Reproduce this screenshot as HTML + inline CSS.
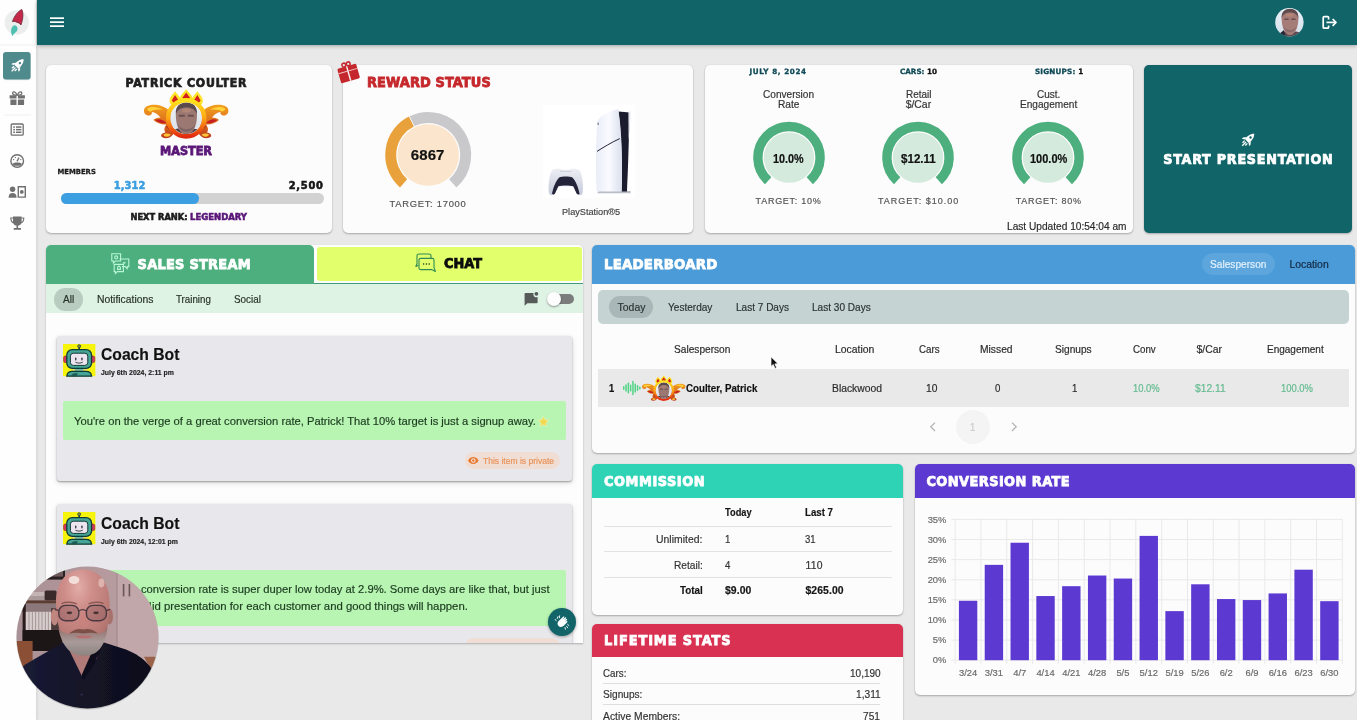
<!DOCTYPE html>
<html lang="en">
<head>
<meta charset="utf-8">
<title>Sales Dashboard</title>
<style>
*{box-sizing:border-box;margin:0;padding:0}
html,body{width:1357px;height:720px;overflow:hidden}
body{position:relative;background:#e9e9e9;font-family:"Liberation Sans",sans-serif;color:#222;font-size:11px}
.abs{position:absolute}
.t{position:absolute;white-space:nowrap;line-height:1;transform-origin:0 50%;-webkit-text-stroke:.18px currentColor}
.card{position:absolute;background:#fdfcfd;border-radius:5px;box-shadow:0 1px 2px rgba(0,0,0,.28),0 0 1px rgba(0,0,0,.12)}
#sidebar{left:0;top:0;width:36.2px;height:720px;background:#fefefe}
#header{left:36.8px;top:0;width:1320.2px;height:44.5px;background:#116467;box-shadow:0 1px 4px rgba(0,0,0,.3)}
svg{position:absolute;overflow:visible}
</style>
</head>
<body>
<!-- CARDS ROW -->
<div class="card" style="left:46px;top:65px;width:286px;height:168px"></div>
<div class="t" style="left:125.50px;top:77px;font-size:12.2px;font-family:'DejaVu Sans Condensed','DejaVu Sans','Liberation Sans',sans-serif;font-weight:700;letter-spacing:0.824px;color:#1f1f1f;-webkit-text-stroke:0.7px #1f1f1f;">PATRICK COULTER</div>
<svg style="left:140px;top:88px" width="92" height="52" viewBox="140 88 92 52">
<defs>
<linearGradient id="bring" x1="0" y1="0" x2="0" y2="1"><stop offset="0" stop-color="#ffe21c"/><stop offset=".5" stop-color="#ffa514"/><stop offset="1" stop-color="#e22a10"/></linearGradient>
<linearGradient id="bwing" x1="0" y1="0" x2="0" y2="1"><stop offset="0" stop-color="#f2a01e"/><stop offset=".6" stop-color="#d9661c"/><stop offset="1" stop-color="#b93a1c"/></linearGradient>
<linearGradient id="bphoto" x1="0" y1="0" x2="0" y2="1"><stop offset="0" stop-color="#eef2f8"/><stop offset="1" stop-color="#d9dfe8"/></linearGradient>
<clipPath id="bclip"><circle cx="186.2" cy="118.2" r="15.6"/></clipPath>
</defs>
<g id="badgeart">
<!-- wings -->
<g id="bw">
<path d="M169 110.600 C163 104.600 152 103.400 146.400 106.600 C142.600 109 143.400 114.600 147.600 115.400 C150.400 116 152.600 114 151.800 112 C155 112.400 158.400 114.600 160.400 117.400 C157.400 117.400 154.600 118.400 153.400 120 C157 123.400 162 124.800 166.400 124.400 C164.400 127 163.600 129.600 165.400 132.400 C162.600 132.600 160.400 134.600 161.400 136.600 C164.400 139.400 170.600 138.600 173.400 134 L171.400 113 Z" fill="url(#bwing)"/>
<path d="M147.200 108.800 C150 106 157.600 106.400 162.600 109.800 C158 109 153 109.600 151 111.400 C149.600 111.800 147.200 110.600 147.200 108.800 Z" fill="#ffd23a"/>
<path d="M155 119.800 C158.400 118.400 163.600 119.400 166.400 123 C162 123.800 157.600 122.600 155 119.800 Z" fill="#c51f22"/>
<path d="M163.400 134.800 C165 133 168.600 133 170.800 134.600 C169 137.400 165 137.600 163.400 134.800 Z" fill="#ffc43a"/>
<path d="M166 126 C167.400 128 169.400 130 171.600 131 L170.400 125 Z" fill="#a8321a"/>
</g>
<use href="#bw" transform="translate(372.4 0) scale(-1 1)"/>
<!-- crown flames -->
<g>
<path d="M175 91.200 C177.600 94.600 180.600 97 180.800 100.400 C180.800 103.600 178 106 175.200 106.400 C172 106 169.400 103.600 169.600 100.400 C169.800 97 172.600 94.600 175 91.200 Z" fill="#ffe326"/>
<path d="M197.400 91.200 C199.800 94.600 202.600 97 202.800 100.400 C203 103.600 200.400 106 197.200 106.400 C194.400 106 191.600 103.600 191.600 100.400 C191.800 97 194.800 94.600 197.400 91.200 Z" fill="#ffe326"/>
<path d="M186.200 89.200 C188.800 92.600 192.400 95 192.400 98.800 C192.400 102.400 189.600 105 186.200 105.400 C182.800 105 180 102.400 180 98.800 C180 95 183.600 92.600 186.200 89.200 Z" fill="#ffe326"/>
<path d="M175 95 L178.400 100.200 L175.200 104.800 L171.800 100.400 Z" fill="#d3201d"/>
<path d="M197.400 95 L200.600 100.400 L197.200 104.800 L194 100.200 Z" fill="#d3201d"/>
<path d="M186.200 92.400 L190 97.800 L186.200 103.400 L182.400 97.800 Z" fill="#d3201d"/>
</g>
<!-- ring -->
<circle cx="186.2" cy="118.4" r="18" fill="none" stroke="url(#bring)" stroke-width="4.600"/>
<circle cx="186.2" cy="118.200" r="15.800" fill="url(#bphoto)"/>
<g clip-path="url(#bclip)">
<path d="M168 136 C170 131 174 129.600 178 128.600 L196 129 C200 130 203 131.400 204.600 136 Z" fill="#4a3f48"/>
<path d="M186.400 103.400 C193.600 103.400 197.200 108.400 197 116 C196.800 123.600 194.800 129.600 191 133 C188.400 135.200 184.400 135.200 181.800 133 C178 129.600 176 123.600 175.800 116 C175.600 108.400 179.200 103.400 186.400 103.400 Z" fill="#9c7872"/>
<path d="M175.900 114.600 C175 106 180.400 102.600 186.400 102.600 C192.400 102.600 197.800 106 196.900 114.600 C195.600 109.800 192 107.600 186.400 107.600 C180.800 107.600 177.200 109.800 175.900 114.600 Z" fill="#5a4a4c"/>
<path d="M178.800 114.800 h6 v2 h-6 Z M187.800 114.800 h6 v2 h-6 Z" fill="#6a4e4e"/>
<path d="M177.400 123.600 C180 131 192.800 131 195.400 123.600 C193.600 134.600 179.200 134.600 177.400 123.600 Z" fill="#7d6466"/>
<ellipse cx="186.400" cy="110.600" rx="4.600" ry="2" fill="#b98a7a" opacity=".7"/>
</g>
</g>
</svg>
<div class="t" style="left:160.00px;top:145px;font-size:12.5px;font-family:'DejaVu Sans Condensed','DejaVu Sans','Liberation Sans',sans-serif;font-weight:700;color:#5a1777;-webkit-text-stroke:0.8px #5a1777;">MASTER</div>
<div class="t" style="left:57.50px;top:169px;font-size:6.83px;font-family:'DejaVu Sans','Liberation Sans',sans-serif;font-weight:700;color:#1b1b1b;-webkit-text-stroke:0.3px #1b1b1b;">MEMBERS</div>
<div class="t" style="left:113.75px;top:180px;font-size:11px;font-family:'DejaVu Sans Condensed','DejaVu Sans','Liberation Sans',sans-serif;font-weight:700;letter-spacing:0.109px;color:#3b9fe2;-webkit-text-stroke:0.55px #3b9fe2;">1,312</div>
<div class="t" style="left:288.75px;top:180px;font-size:11px;font-family:'DejaVu Sans Condensed','DejaVu Sans','Liberation Sans',sans-serif;font-weight:700;letter-spacing:0.734px;color:#161616;-webkit-text-stroke:0.55px #161616;">2,500</div>
<div class="abs" style="left:60.5px;top:193px;width:263.2px;height:10.8px;border-radius:5.4px;background:#d2d2d2"></div>
<div class="abs" style="left:60.5px;top:193px;width:138.2px;height:10.8px;border-radius:5.4px;background:#3b9fe2"></div>
<div class="t" style="left:130.50px;top:212px;font-size:9.22px;font-family:'DejaVu Sans Condensed','DejaVu Sans','Liberation Sans',sans-serif;font-weight:700;color:#1b1b1b;-webkit-text-stroke:0.55px #1b1b1b;">NEXT RANK:</div>
<div class="t" style="left:190.00px;top:212px;font-size:9.46px;font-family:'DejaVu Sans Condensed','DejaVu Sans','Liberation Sans',sans-serif;font-weight:700;color:#5a1777;-webkit-text-stroke:0.55px #5a1777;">LEGENDARY</div>
<div class="card" style="left:343px;top:65px;width:350px;height:168px"></div>
<svg style="left:333.2px;top:55.5px" width="30" height="30" viewBox="334 56 30 30">
<g transform="rotate(-16 349 72)">
<rect x="339.400" y="66" width="19.600" height="15.200" rx="1.600" fill="#c5282c"/>
<rect x="348.500" y="66" width="1.400" height="15.200" fill="#fdf3f3"/>
<rect x="339.400" y="70.600" width="19.600" height="1" fill="#f3c9c9"/>
<g fill="none" stroke="#c5282c" stroke-width="1.500"><circle cx="346.900" cy="64.200" r="1.900"/><circle cx="351.500" cy="64.200" r="1.900"/></g>
</g></svg>
<div class="t" style="left:367.00px;top:75px;font-size:14.4px;font-family:'DejaVu Sans Condensed','DejaVu Sans','Liberation Sans',sans-serif;font-weight:700;letter-spacing:0.116px;color:#c5282c;-webkit-text-stroke:0.8px #c5282c;">REWARD STATUS</div>
<svg style="left:380px;top:106px" width="96" height="96" viewBox="380 106 96 96">
<path d="M412.06 121.15 A37.50 37.50 0 0 1 452.80 183.30" fill="none" stroke="#c9c9cb" stroke-width="11"/><path d="M403.60 183.30 A37.50 37.50 0 0 1 411.36 121.50" fill="none" stroke="#e9a23b" stroke-width="11"/><circle cx="428.2" cy="155" r="30.8" fill="#fbe6cd"/>
</svg>
<div class="t" style="left:410.80px;top:147px;font-size:15px;font-weight:700;letter-spacing:0.075px;color:#111;">6867</div>
<div class="t" style="left:389.40px;top:199px;font-size:9.4px;letter-spacing:0.735px;color:#555;">TARGET: 17000</div>
<svg style="left:540px;top:104px" width="100" height="96" viewBox="540 104 100 96">
<defs>
<linearGradient id="psb" x1="0" y1="0" x2="1" y2="0"><stop offset="0" stop-color="#e9edf6"/><stop offset=".5" stop-color="#fafbff"/><stop offset="1" stop-color="#d9dfec"/></linearGradient>
<linearGradient id="psc" x1="0" y1="0" x2="0" y2="1"><stop offset="0" stop-color="#eceef5"/><stop offset="1" stop-color="#c6cad9"/></linearGradient>
</defs>
<rect x="543" y="105" width="92" height="93" fill="#ffffff"/>
<!-- console -->
<path d="M599 191 L630.6 191 L630.6 193.2 L597 193.2 Z" fill="#b9bcc6"/>
<path d="M618.4 111.6 L629.8 112.6 C629 128 628.6 160 627 191.4 L621.6 191.4 C622.6 160 621 130 618.4 111.6 Z" fill="#1b1c2d"/>
<path d="M628.4 111.8 L630.6 111.4 C630.4 122 629.4 132 628.6 140 Z" fill="#e3e6ee"/>
<path d="M597.4 121 C600 116 610 110.6 618.2 109 C621.4 128 622.8 160 621.6 191.6 L596.6 191.6 C595.6 170 595.8 140 597.4 121 Z" fill="url(#psb)"/>
<path d="M597 151.4 C603 147.6 612 142 619.8 138.6" fill="none" stroke="#23253a" stroke-width="1"/>
<rect x="597.4" y="122.6" width="1.6" height="2.4" fill="#8f95a8"/>
<!-- controller -->
<path d="M552.400 170 C555.400 168.200 560.400 168.400 563 169.800 L568.600 169.800 C571.200 168.400 576.200 168.200 579.200 170 C582.600 174 584 188 582.400 193.600 C581.400 196 578.400 195.800 577.200 193.600 L574.200 186.200 L557.400 186.200 L554.400 193.600 C553.200 195.800 550.200 196 549.200 193.600 C547.600 188 549 174 552.400 170 Z" fill="url(#psc)"/>
<path d="M559.200 177.400 C562 176.200 569.600 176.200 572.400 177.400 C576 181 578.600 188 579.600 193.800 C578.800 195 577.200 194.800 576.600 193.600 L573.200 186.200 C570 185.200 561.600 185.200 558.400 186.200 L555 193.600 C554.400 194.800 552.800 195 552 193.800 C553 188 555.600 181 559.200 177.400 Z" fill="#23243a"/>
<path d="M560 171.400 H571.600" stroke="#c5c9d6" stroke-width=".8" fill="none"/>
</svg>
<div class="t" style="left:562.30px;top:207px;font-size:9.6px;transform:scaleX(0.9534);color:#444;">PlayStation&#174;5</div>
<div class="card" style="left:705px;top:65px;width:427.5px;height:168px"></div>
<div class="t" style="left:749.50px;top:68px;font-size:7.2px;font-family:'DejaVu Sans','Liberation Sans',sans-serif;font-weight:700;letter-spacing:0.598px;color:#0f4a57;-webkit-text-stroke:0.3px #0f4a57;">JULY 8, 2024</div>
<div class="t" style="left:900.00px;top:68px;font-size:7.2px;font-family:'DejaVu Sans','Liberation Sans',sans-serif;font-weight:700;letter-spacing:0.007px;color:#0f4a57;-webkit-text-stroke:0.3px #0f4a57;">CARS: <span style="color:#111;-webkit-text-stroke-color:#111">10</span></div>
<div class="t" style="left:1035.00px;top:68px;font-size:7.2px;font-family:'DejaVu Sans','Liberation Sans',sans-serif;font-weight:700;letter-spacing:0.194px;color:#0f4a57;-webkit-text-stroke:0.3px #0f4a57;">SIGNUPS: <span style="color:#111;-webkit-text-stroke-color:#111">1</span></div>
<div class="t" style="left:763.00px;top:90px;font-size:10.4px;transform:scaleX(0.9703);color:#333;">Conversion</div>
<div class="t" style="left:777.75px;top:100px;font-size:10.4px;transform:scaleX(0.9794);color:#333;">Rate</div>
<svg style="left:748.5px;top:118px" width="80" height="80" viewBox="748.5 118 80 80"><path d="M767.69 180.71 A31.10 31.10 0 1 1 809.31 180.71" fill="none" stroke="#4caf7d" stroke-width="9.4"/><circle cx="788.5" cy="157.6" r="25.2" fill="#d4eadc"/></svg>
<div class="t" style="left:773.30px;top:153px;font-size:12px;font-weight:700;transform:scaleX(0.8992);color:#111;">10.0%</div>
<div class="t" style="left:755.60px;top:197px;font-size:9px;letter-spacing:0.734px;color:#555;">TARGET: 10%</div>
<div class="t" style="left:905.65px;top:90px;font-size:10.4px;transform:scaleX(0.9594);color:#333;">Retail</div>
<div class="t" style="left:905.65px;top:100px;font-size:10.4px;letter-spacing:0.020px;color:#333;">$/Car</div>
<svg style="left:878.4px;top:118px" width="80" height="80" viewBox="878.4 118 80 80"><path d="M897.59 180.71 A31.10 31.10 0 1 1 939.21 180.71" fill="none" stroke="#4caf7d" stroke-width="9.4"/><circle cx="918.4" cy="157.6" r="25.2" fill="#d4eadc"/></svg>
<div class="t" style="left:900.80px;top:153px;font-size:12px;font-weight:700;transform:scaleX(0.9654);color:#111;">$12.11</div>
<div class="t" style="left:878.00px;top:197px;font-size:9px;letter-spacing:0.987px;color:#555;">TARGET: $10.00</div>
<div class="t" style="left:1036.75px;top:90px;font-size:10.4px;transform:scaleX(0.9602);color:#333;">Cust.</div>
<div class="t" style="left:1019.75px;top:100px;font-size:10.4px;transform:scaleX(0.9722);color:#333;">Engagement</div>
<svg style="left:1008.4000000000001px;top:118px" width="80" height="80" viewBox="1008.4000000000001 118 80 80"><path d="M1027.59 180.71 A31.10 31.10 0 1 1 1069.21 180.71" fill="none" stroke="#4caf7d" stroke-width="9.4"/><circle cx="1048.4" cy="157.6" r="25.2" fill="#d4eadc"/></svg>
<div class="t" style="left:1030.00px;top:153px;font-size:12px;font-weight:700;transform:scaleX(0.9164);color:#111;">100.0%</div>
<div class="t" style="left:1015.70px;top:197px;font-size:9px;letter-spacing:0.744px;color:#555;">TARGET: 80%</div>

<div class="t" style="left:1006.70px;top:222px;font-size:10.4px;transform:scaleX(0.9758);color:#2a2a2a;">Last Updated 10:54:04 am</div>
<div class="card" style="left:1144px;top:65px;width:208.4px;height:168px;background:#116467"></div>
<svg style="left:1239px;top:131px" width="18" height="18" viewBox="1239 131 18 18"><g fill="#fff" transform="translate(1249 139) rotate(45)">
<path d="M0 -7.400 C3 -4.600 3.200 -0.600 2.900 3 L-2.900 3 C-3.200 -0.600 -3 -4.600 0 -7.400 Z M0 -3.400 a1.250 1.250 0 1 0 0.010 0 Z" fill-rule="evenodd"/>
<path d="M-2.900 0.200 L-5.200 3.200 L-5.200 4.800 L-2.900 3.600 Z M2.900 0.200 L5.200 3.200 L5.200 4.800 L2.900 3.600 Z"/>
<path d="M-2.600 4.200 h1.300 v3 h-1.300 Z M-0.650 4.200 h1.300 v5.400 h-1.300 Z M1.300 4.200 h1.300 v3 h-1.300 Z"/>
</g></svg>
<div class="t" style="left:1163.30px;top:152px;font-size:14.2px;font-family:'DejaVu Sans Condensed','DejaVu Sans','Liberation Sans',sans-serif;font-weight:700;letter-spacing:0.736px;color:#fff;-webkit-text-stroke:0.7px #fff;">START PRESENTATION</div>

<!-- STREAM PANEL -->
<div class="abs" style="left:45.6px;top:244.8px;width:537.8px;height:398.6px;background:#fdfdfd;border-radius:5px 5px 0 0;box-shadow:0 1px 2px rgba(0,0,0,.25)"></div>
<div class="abs" style="left:45.6px;top:244.8px;width:268.7px;height:39.6px;background:#4caf7d;border-radius:5px 5px 0 0"></div>
<div class="abs" style="left:317px;top:246.6px;width:265px;height:34.2px;background:#e2ff6c;border-radius:3px"></div>
<div class="abs" style="left:314.3px;top:282.5px;width:269.1px;height:2.4px;background:#3f9e78"></div>
<div class="abs" style="left:45.6px;top:284.4px;width:537.8px;height:28.5px;background:#dff3e5"></div>
<svg style="left:110.6px;top:253px" width="18.6" height="21" viewBox="0 0 18.6 21" fill="none" stroke="#b9f7d8" stroke-width="1.1">
<path d="M.8 .8 H9.6 V8 H4.4 L2.4 10 V8 H.8 Z"/>
<path d="M8.6 6 H17.8 V13.6 H16.2 V15.6 L14.2 13.6 H11"/>
<path d="M3.2 11.4 H12.4 V18.6 H6.4 L4.4 20.4 V18.6 H3.2 Z"/>
<circle cx="5.2" cy="4.4" r="1.5"/><path d="M12 9.2 l1.2 1.2 l1.2 -1.2"/><path d="M6.6 16.4 v-2.2 l1.4 -1.2 l1.4 1.2 v2.2 Z"/>
</svg>
<div class="t" style="left:137.60px;top:257px;font-size:14.4px;font-family:'DejaVu Sans Condensed','DejaVu Sans','Liberation Sans',sans-serif;font-weight:700;letter-spacing:0.259px;color:#fff;-webkit-text-stroke:0.75px #fff;">SALES STREAM</div>
<svg style="left:415.4px;top:253px" width="21" height="19.4" viewBox="0 0 21 19.4" fill="none" stroke="#2f8a57" stroke-width="1.1" stroke-linejoin="round">
<path d="M3.4 12.2 L.8 13.4 L2 10.8 V3 Q2 1 4 1 H14 Q16 1 16 3 V5"/>
<path d="M5.6 5.4 H17.4 Q19 5.4 19 7 V14.4 L20.4 18.4 L16.6 16.6 H5.6 Q4 16.6 4 15 V7 Q4 5.4 5.6 5.4 Z" fill="#e2ff6c"/>
<g fill="#1c3a25" stroke="none"><circle cx="8.6" cy="11" r=".8"/><circle cx="11.4" cy="11" r=".8"/><circle cx="14.2" cy="11" r=".8"/></g>
</svg>
<div class="t" style="left:444.00px;top:256px;font-size:14.37px;font-family:'DejaVu Sans Condensed','DejaVu Sans','Liberation Sans',sans-serif;font-weight:700;color:#0c0c0c;-webkit-text-stroke:0.75px #0c0c0c;">CHAT</div>
<div class="abs" style="left:54.4px;top:288px;width:28.2px;height:22.6px;border-radius:11.3px;background:#b9ccc0"></div>
<div class="t" style="left:63.00px;top:295px;font-size:10.4px;transform:scaleX(0.9686);color:#263228;">All</div>
<div class="t" style="left:96.80px;top:295px;font-size:10.4px;transform:scaleX(0.9963);color:#263228;">Notifications</div>
<div class="t" style="left:176.30px;top:295px;font-size:10.4px;transform:scaleX(0.9393);color:#263228;">Training</div>
<div class="t" style="left:234.30px;top:295px;font-size:10.4px;transform:scaleX(0.9501);color:#263228;">Social</div>
<svg style="left:524.2px;top:290.6px" width="15.4" height="15.4" viewBox="0 0 15.4 15.4">
<path d="M1.4 2 H9.6 A3 3 0 0 0 13.6 6 V11.4 Q13.6 12.2 12.8 12.2 H3.4 L.6 14.8 V2.8 Q.6 2 1.4 2 Z" fill="#565a58"/>
<circle cx="12.4" cy="2.8" r="1.9" fill="#565a58"/>
</svg>
<div class="abs" style="left:548.4px;top:294px;width:25.8px;height:10px;border-radius:5px;background:#7b7d7c"></div>
<div class="abs" style="left:547px;top:291.8px;width:14.2px;height:14.2px;border-radius:50%;background:#fdfdfd;box-shadow:0 1px 2px rgba(0,0,0,.4)"></div>
<div class="abs" style="left:45.6px;top:312.8px;width:537.8px;height:330.6px;overflow:hidden">
<div class="abs" style="left:-45.6px;top:-312.8px;width:1357px;height:720px">
<div class="abs" style="left:57px;top:336.2px;width:515.4px;height:145px;background:#e8e8ec;border-radius:3px;box-shadow:0 1px 2px rgba(0,0,0,.35),0 2px 6px rgba(0,0,0,.12)"></div>
<svg style="left:62.8px;top:344.0px" width="32.4" height="32.2" viewBox="0 0 32.4 32.2">
<rect width="32.4" height="32.2" fill="#f6f40c"/>
<rect x="15.4" y="2.6" width="1.6" height="3.4" fill="#17443e"/>
<circle cx="16.2" cy="2.2" r="1.5" fill="#8f8f3c" stroke="#17443e" stroke-width=".7"/>
<rect x="0.6" y="12" width="4" height="6.6" rx="1.6" fill="#d9365c" stroke="#7a1f35" stroke-width=".5"/>
<rect x="27.8" y="12" width="4" height="6.6" rx="1.6" fill="#d9365c" stroke="#7a1f35" stroke-width=".5"/>
<rect x="3.8" y="5.6" width="24.8" height="18.8" rx="5.4" fill="#46a596" stroke="#0f3b36" stroke-width="1.3"/>
<rect x="7.4" y="9.2" width="17.4" height="12.2" rx="3" fill="#ece4ee" stroke="#0f3b36" stroke-width="1"/>
<rect x="12.1" y="13.6" width="1.3" height="2.8" rx=".6" fill="#2c3440"/>
<rect x="18.3" y="13.6" width="1.3" height="2.8" rx=".6" fill="#2c3440"/>
<path d="M12.8 18.4 C14.6 19.4 17.6 19.4 19.4 18.4" fill="none" stroke="#2c3440" stroke-width=".9" stroke-linecap="round"/>
<rect x="8.4" y="25.2" width="15.6" height="1.4" fill="#e8d37c"/>
<rect x="12" y="25" width="8.4" height="1.8" fill="#6fb7ab"/>
<path d="M3.8 32.2 C4.2 28.4 6.4 27.4 9.4 27.4 H23 C26 27.4 28.2 28.4 28.6 32.2 Z" fill="#46a596" stroke="#0f3b36" stroke-width="1.3"/>
<path d="M8 32.2 C8.6 30 10 29.2 12 29.2 H15 L13.4 32.2 Z" fill="#1d5a52"/>
</svg>
<div class="t" style="left:100.80px;top:346px;font-size:17px;font-weight:700;transform:scaleX(0.9224);color:#111;">Coach Bot</div>
<div class="t" style="left:100.80px;top:369px;font-size:8px;font-weight:700;transform:scaleX(0.8639);">July 6th 2024, 2:11 pm</div>

<div class="abs" style="left:63px;top:400.8px;width:503.2px;height:39.4px;background:#b8f5b3;border-radius:2px"></div>
<div class="t" style="left:74.30px;top:415px;font-size:11.6px;transform:scaleX(0.9671);color:#1b3a1e;">You&#39;re on the verge of a great conversion rate, Patrick! That 10% target is just a signup away.</div>
<svg style="left:537.6px;top:415.6px" width="11" height="11" viewBox="0 0 11 11"><path d="M5.5 .4 L7 3.8 L10.7 4.2 L7.9 6.7 L8.7 10.4 L5.5 8.5 L2.3 10.4 L3.1 6.7 L.3 4.2 L4 3.8 Z" fill="#f1d84d" stroke="#f8f1b0" stroke-width=".6"/></svg>
<div class="abs" style="left:464.8px;top:451.8px;width:95.2px;height:17.4px;border-radius:8.7px;background:#f0ddd3"></div>
<svg style="left:467.6px;top:457.3px" width="10.6" height="7" viewBox="0 0 10.6 7"><path d="M0 3.5 C1.6 .6 3.4 0 5.3 0 C7.2 0 9 .6 10.6 3.5 C9 6.4 7.2 7 5.3 7 C3.4 7 1.6 6.4 0 3.5 Z M5.3 1.2 A2.3 2.3 0 1 0 5.31 1.2 Z M5.3 2.3 A1.2 1.2 0 1 1 5.29 2.3 Z" fill="#e8782c" fill-rule="evenodd"/></svg>
<div class="t" style="left:482.60px;top:457px;font-size:8.6px;transform:scaleX(0.9911);color:#e8935a;">This item is private</div>
<div class="abs" style="left:57px;top:504.4px;width:515.4px;height:160px;background:#e8e8ec;border-radius:3px;box-shadow:0 1px 2px rgba(0,0,0,.35),0 2px 6px rgba(0,0,0,.12)"></div>
<svg style="left:62.8px;top:512.1999999999999px" width="32.4" height="32.2" viewBox="0 0 32.4 32.2">
<rect width="32.4" height="32.2" fill="#f6f40c"/>
<rect x="15.4" y="2.6" width="1.6" height="3.4" fill="#17443e"/>
<circle cx="16.2" cy="2.2" r="1.5" fill="#8f8f3c" stroke="#17443e" stroke-width=".7"/>
<rect x="0.6" y="12" width="4" height="6.6" rx="1.6" fill="#d9365c" stroke="#7a1f35" stroke-width=".5"/>
<rect x="27.8" y="12" width="4" height="6.6" rx="1.6" fill="#d9365c" stroke="#7a1f35" stroke-width=".5"/>
<rect x="3.8" y="5.6" width="24.8" height="18.8" rx="5.4" fill="#46a596" stroke="#0f3b36" stroke-width="1.3"/>
<rect x="7.4" y="9.2" width="17.4" height="12.2" rx="3" fill="#ece4ee" stroke="#0f3b36" stroke-width="1"/>
<rect x="12.1" y="13.6" width="1.3" height="2.8" rx=".6" fill="#2c3440"/>
<rect x="18.3" y="13.6" width="1.3" height="2.8" rx=".6" fill="#2c3440"/>
<path d="M12.8 18.4 C14.6 19.4 17.6 19.4 19.4 18.4" fill="none" stroke="#2c3440" stroke-width=".9" stroke-linecap="round"/>
<rect x="8.4" y="25.2" width="15.6" height="1.4" fill="#e8d37c"/>
<rect x="12" y="25" width="8.4" height="1.8" fill="#6fb7ab"/>
<path d="M3.8 32.2 C4.2 28.4 6.4 27.4 9.4 27.4 H23 C26 27.4 28.2 28.4 28.6 32.2 Z" fill="#46a596" stroke="#0f3b36" stroke-width="1.3"/>
<path d="M8 32.2 C8.6 30 10 29.2 12 29.2 H15 L13.4 32.2 Z" fill="#1d5a52"/>
</svg>
<div class="t" style="left:100.80px;top:515px;font-size:17px;font-weight:700;transform:scaleX(0.9224);color:#111;">Coach Bot</div>
<div class="t" style="left:100.80px;top:538px;font-size:8px;font-weight:700;transform:scaleX(0.8592);">July 6th 2024, 12:01 pm</div>

<div class="abs" style="left:63px;top:569.8px;width:503.2px;height:56.5px;background:#b8f5b3;border-radius:2px"></div>
<div class="t" style="left:74.30px;top:583px;font-size:11.6px;transform:scaleX(0.9300);color:#1b3a1e;">The overall</div>
<div class="t" style="left:140.70px;top:583px;font-size:11.6px;transform:scaleX(0.9678);color:#1b3a1e;">conversion rate is super duper low today at 2.9%. Some days are like that, but just</div>
<div class="t" style="left:76.99px;top:600px;font-size:11.6px;transform:scaleX(0.9300);color:#1b3a1e;">give a really sol</div>
<div class="t" style="left:151.50px;top:600px;font-size:11.6px;transform:scaleX(0.9802);color:#1b3a1e;">id presentation for each customer and good things will happen.</div>
<div class="abs" style="left:464.8px;top:637.8px;width:95.2px;height:17.4px;border-radius:8.7px;background:#f0ddd3"></div>
<svg style="left:467.6px;top:643.3px" width="10.6" height="7" viewBox="0 0 10.6 7"><path d="M0 3.5 C1.6 .6 3.4 0 5.3 0 C7.2 0 9 .6 10.6 3.5 C9 6.4 7.2 7 5.3 7 C3.4 7 1.6 6.4 0 3.5 Z M5.3 1.2 A2.3 2.3 0 1 0 5.31 1.2 Z M5.3 2.3 A1.2 1.2 0 1 1 5.29 2.3 Z" fill="#e8782c" fill-rule="evenodd"/></svg>
<div class="t" style="left:482.60px;top:643px;font-size:8.6px;transform:scaleX(0.9911);color:#e8935a;">This item is private</div>
</div></div>
<div class="abs" style="left:548px;top:607.9px;width:28.4px;height:28.4px;border-radius:50%;background:#126468;box-shadow:0 1px 3px rgba(0,0,0,.35)"></div>
<svg style="left:554.6px;top:614.6px" width="15" height="15" viewBox="0 0 15 15"><g fill="#fff">
<path d="M5.2 4.4 L8.4 1.6 C9 1.2 9.8 2 9.2 2.6 L7.6 4.4 L10.2 2.4 C10.8 2 11.6 2.8 11 3.4 L8.8 5.6 L11.2 4 C11.8 3.6 12.6 4.4 12 5 L9.8 7 L11.6 6 C12.2 5.8 12.8 6.6 12.2 7.2 L9 10.6 C7.4 12.2 5 12.4 3.6 11 C2.2 9.6 2.2 7.6 3.4 6.2 Z"/>
<path d="M2.2 3.6 L3 1.6 M4.4 2.8 L4.6 .8 M1.2 5.8 L.2 4.4 M12.6 9.4 L13.8 10.4 M11.6 11.2 L12.6 12.8 M10 12.6 L10.4 14.2" stroke="#fff" stroke-width=".9" stroke-linecap="round"/>
</g></svg>

<!-- RIGHT COLUMN -->
<div class="card" style="left:591.8px;top:244.6px;width:763.4px;height:208.2px"></div>
<div class="abs" style="left:591.8px;top:244.6px;width:763.4px;height:39.2px;background:#4a9bd8;border-radius:5px 5px 0 0"></div>
<div class="t" style="left:604.00px;top:257px;font-size:14.8px;font-family:'DejaVu Sans Condensed','DejaVu Sans','Liberation Sans',sans-serif;font-weight:700;letter-spacing:0.233px;color:#fff;-webkit-text-stroke:0.75px #fff;">LEADERBOARD</div>
<div class="abs" style="left:1202px;top:253.2px;width:72.8px;height:22.2px;border-radius:11.1px;background:#5da6dd"></div>
<div class="t" style="left:1209.80px;top:260px;font-size:10.4px;transform:scaleX(0.9781);color:#e4f1fb;">Salesperson</div>
<div class="t" style="left:1289.40px;top:260px;font-size:10.4px;color:#14273f;">Location</div>
<div class="abs" style="left:597.6px;top:290.2px;width:751.8px;height:33.6px;border-radius:5px;background:#c5d3d3"></div>
<div class="abs" style="left:609px;top:296px;width:44.4px;height:22.4px;border-radius:11.2px;background:#aab7b8"></div>
<div class="t" style="left:617.60px;top:303px;font-size:10.4px;letter-spacing:0.016px;color:#2b3333;">Today</div>
<div class="t" style="left:668.40px;top:303px;font-size:10.4px;transform:scaleX(0.9685);color:#2b3333;">Yesterday</div>
<div class="t" style="left:736.00px;top:303px;font-size:10.4px;transform:scaleX(0.9658);color:#2b3333;">Last 7 Days</div>
<div class="t" style="left:812.00px;top:303px;font-size:10.4px;transform:scaleX(0.9677);color:#2b3333;">Last 30 Days</div>
<div class="t" style="left:674.30px;top:345px;font-size:10.4px;transform:scaleX(0.9764);color:#2b2b2b;">Salesperson</div>
<div class="t" style="left:835.00px;top:345px;font-size:10.4px;letter-spacing:0.015px;color:#2b2b2b;">Location</div>
<div class="t" style="left:919.40px;top:345px;font-size:10.4px;transform:scaleX(0.9384);color:#2b2b2b;">Cars</div>
<div class="t" style="left:980.40px;top:345px;font-size:10.4px;transform:scaleX(0.9902);color:#2b2b2b;">Missed</div>
<div class="t" style="left:1054.70px;top:345px;font-size:10.4px;transform:scaleX(0.9770);color:#2b2b2b;">Signups</div>
<div class="t" style="left:1132.70px;top:345px;font-size:10.4px;transform:scaleX(0.9355);color:#2b2b2b;">Conv</div>
<div class="t" style="left:1196.40px;top:345px;font-size:10.4px;letter-spacing:0.045px;color:#2b2b2b;">$/Car</div>
<div class="t" style="left:1267.00px;top:345px;font-size:10.4px;transform:scaleX(0.9620);color:#2b2b2b;">Engagement</div>
<div class="abs" style="left:597.6px;top:368.6px;width:751.8px;height:38.2px;background:#e9e9e9"></div>
<div class="t" style="left:609.30px;top:384px;font-size:10.4px;font-weight:700;transform:scaleX(0.9000);color:#111;">1</div>
<svg style="left:622.6px;top:380px" width="18" height="16" viewBox="0 0 18 16" fill="#52d486">
<rect x="0" y="6" width="1.5" height="4" rx=".7"/><rect x="2.300" y="4.200" width="1.5" height="7.600" rx=".7"/><rect x="4.600" y="2.600" width="1.5" height="10.800" rx=".7"/><rect x="6.900" y="4.400" width="1.5" height="7.200" rx=".7"/><rect x="9.200" y=".8" width="1.5" height="14.400" rx=".7"/><rect x="11.500" y="3.400" width="1.5" height="9.200" rx=".7"/><rect x="13.800" y="5" width="1.5" height="6" rx=".7"/><rect x="16.100" y="6.400" width="1.5" height="3.200" rx=".7"/>
</svg>
<svg style="left:639.7px;top:375px" width="47.3" height="26.7" viewBox="140 88 92 52"><use href="#badgeart"/></svg>
<div class="t" style="left:686.00px;top:384px;font-size:10.4px;font-weight:700;transform:scaleX(0.9366);color:#111;">Coulter, Patrick</div>
<div class="t" style="left:831.70px;top:384px;font-size:10.4px;transform:scaleX(0.9950);color:#2b2b2b;">Blackwood</div>
<div class="t" style="left:926.00px;top:384px;font-size:10.4px;transform:scaleX(0.9859);color:#2b2b2b;">10</div>
<div class="t" style="left:995.31px;top:384px;font-size:10.4px;transform:scaleX(0.9300);color:#2b2b2b;">0</div>
<div class="t" style="left:1071.71px;top:384px;font-size:10.4px;transform:scaleX(0.9300);color:#2b2b2b;">1</div>
<div class="t" style="left:1132.70px;top:384px;font-size:10.4px;transform:scaleX(0.9060);color:#63bb8f;">10.0%</div>
<div class="t" style="left:1195.40px;top:384px;font-size:10.4px;transform:scaleX(0.9866);color:#63bb8f;">$12.11</div>
<div class="t" style="left:1281.00px;top:384px;font-size:10.4px;transform:scaleX(0.9078);color:#63bb8f;">100.0%</div>
<div class="abs" style="left:955.8px;top:409.6px;width:34px;height:34px;border-radius:50%;background:#f4f4f4"></div>
<svg style="left:928px;top:420px" width="92" height="14" viewBox="928 420 92 14" fill="none" stroke="#b4b4b4" stroke-width="1.300">
<path d="M935 422.600 L930.800 426.800 L935 431"/><path d="M1012 422.600 L1016.200 426.800 L1012 431"/></svg>
<div class="t" style="left:970.31px;top:423px;font-size:10.4px;transform:scaleX(0.9300);color:#c9c9c9;">1</div>
<svg style="left:770px;top:356px" width="10" height="14" viewBox="0 0 10 14"><path d="M1 .8 L1 10.400 L3.300 8.400 L5 12.400 L6.600 11.700 L4.900 7.900 L8 7.700 Z" fill="#111" stroke="#fff" stroke-width=".7"/></svg>
<div class="card" style="left:592.2px;top:464px;width:310.8px;height:150.6px"></div>
<div class="abs" style="left:592.2px;top:464px;width:310.8px;height:34.2px;background:#2ed3b6;border-radius:5px 5px 0 0"></div>
<div class="t" style="left:604.00px;top:474px;font-size:14.4px;font-family:'DejaVu Sans Condensed','DejaVu Sans','Liberation Sans',sans-serif;font-weight:700;letter-spacing:0.539px;color:#fff;-webkit-text-stroke:0.75px #fff;">COMMISSION</div>
<div class="t" style="left:725.00px;top:508px;font-size:10.4px;font-weight:700;transform:scaleX(0.8918);color:#161616;">Today</div>
<div class="t" style="left:805.40px;top:508px;font-size:10.4px;font-weight:700;transform:scaleX(0.9324);color:#161616;">Last 7</div>
<div class="abs" style="left:604px;top:525.6px;width:287.6px;height:1px;background:#e2e2e2"></div>
<div class="abs" style="left:604px;top:551.3px;width:287.6px;height:1px;background:#e2e2e2"></div>
<div class="abs" style="left:604px;top:577px;width:287.6px;height:1px;background:#e2e2e2"></div>
<div class="t" style="left:656.00px;top:535px;font-size:10.4px;letter-spacing:0.022px;color:#333;">Unlimited:</div><div class="t" style="left:725.00px;top:535px;font-size:10.4px;transform:scaleX(0.9300);color:#333;">1</div><div class="t" style="left:805.40px;top:535px;font-size:10.4px;transform:scaleX(0.9168);color:#333;">31</div>
<div class="t" style="left:673.60px;top:561px;font-size:10.4px;transform:scaleX(0.9778);color:#333;">Retail:</div><div class="t" style="left:725.00px;top:561px;font-size:10.4px;transform:scaleX(0.9300);color:#333;">4</div><div class="t" style="left:805.40px;top:561px;font-size:10.4px;letter-spacing:0.311px;color:#333;">110</div>
<div class="t" style="left:679.60px;top:586px;font-size:10.4px;font-weight:700;transform:scaleX(0.9475);color:#161616;">Total</div><div class="t" style="left:725.00px;top:586px;font-size:10.4px;font-weight:700;letter-spacing:0.096px;color:#161616;">$9.00</div><div class="t" style="left:805.40px;top:586px;font-size:10.4px;font-weight:700;letter-spacing:0.106px;color:#161616;">$265.00</div>
<div class="card" style="left:592.2px;top:623.6px;width:310.8px;height:120px"></div>
<div class="abs" style="left:592.2px;top:623.6px;width:310.8px;height:33.6px;background:#d93151;border-radius:5px 5px 0 0"></div>
<div class="t" style="left:604.00px;top:633px;font-size:14.4px;font-family:'DejaVu Sans Condensed','DejaVu Sans','Liberation Sans',sans-serif;font-weight:700;letter-spacing:0.912px;color:#fff;-webkit-text-stroke:0.75px #fff;">LIFETIME STATS</div>
<div class="t" style="left:603.40px;top:669px;font-size:10.4px;transform:scaleX(0.9425);color:#333;">Cars:</div><div class="t" style="left:849.60px;top:669px;font-size:10.4px;transform:scaleX(0.9660);color:#333;">10,190</div>
<div class="abs" style="left:603.4px;top:683px;width:277px;height:1px;background:#dedede"></div>
<div class="t" style="left:603.40px;top:690px;font-size:10.4px;transform:scaleX(0.9743);color:#333;">Signups:</div><div class="t" style="left:855.60px;top:690px;font-size:10.4px;transform:scaleX(0.9788);color:#333;">1,311</div>
<div class="abs" style="left:603.4px;top:704.4px;width:277px;height:1px;background:#dedede"></div>
<div class="t" style="left:603.40px;top:712px;font-size:10.4px;transform:scaleX(0.9952);color:#333;">Active Members:</div><div class="t" style="left:863.40px;top:712px;font-size:10.4px;transform:scaleX(0.9744);color:#333;">751</div>
<div class="card" style="left:915px;top:464px;width:440px;height:231.2px"></div>
<div class="abs" style="left:915px;top:464px;width:440px;height:34.2px;background:#5c3ad1;border-radius:5px 5px 0 0"></div>
<div class="t" style="left:926.40px;top:474px;font-size:14.4px;font-family:'DejaVu Sans Condensed','DejaVu Sans','Liberation Sans',sans-serif;font-weight:700;letter-spacing:0.427px;color:#fff;-webkit-text-stroke:0.75px #fff;">CONVERSION RATE</div>
<svg style="left:915px;top:498px" width="440" height="197" viewBox="915 498 440 197"><g stroke="#e9e9eb" stroke-width="1"><path d="M951.6 660.20 H1342.3"/><path d="M951.6 640.09 H1342.3"/><path d="M951.6 619.97 H1342.3"/><path d="M951.6 599.86 H1342.3"/><path d="M951.6 579.74 H1342.3"/><path d="M951.6 559.63 H1342.3"/><path d="M951.6 539.51 H1342.3"/><path d="M951.6 519.40 H1342.3"/><path d="M955.20 519.4 V663.8"/><path d="M981.01 519.4 V663.8"/><path d="M1006.81 519.4 V663.8"/><path d="M1032.62 519.4 V663.8"/><path d="M1058.43 519.4 V663.8"/><path d="M1084.23 519.4 V663.8"/><path d="M1110.04 519.4 V663.8"/><path d="M1135.85 519.4 V663.8"/><path d="M1161.65 519.4 V663.8"/><path d="M1187.46 519.4 V663.8"/><path d="M1213.27 519.4 V663.8"/><path d="M1239.07 519.4 V663.8"/><path d="M1264.88 519.4 V663.8"/><path d="M1290.69 519.4 V663.8"/><path d="M1316.49 519.4 V663.8"/><path d="M1342.30 519.4 V663.8"/></g><g fill="#5c3ad1"><rect x="958.90" y="600.78" width="18.4" height="59.42"/><rect x="984.71" y="564.86" width="18.4" height="95.34"/><rect x="1010.52" y="542.73" width="18.4" height="117.47"/><rect x="1036.32" y="596.04" width="18.4" height="64.16"/><rect x="1062.13" y="586.18" width="18.4" height="74.02"/><rect x="1087.94" y="575.52" width="18.4" height="84.68"/><rect x="1113.74" y="578.54" width="18.4" height="81.66"/><rect x="1139.55" y="535.89" width="18.4" height="124.31"/><rect x="1165.36" y="611.12" width="18.4" height="49.08"/><rect x="1191.16" y="584.29" width="18.4" height="75.91"/><rect x="1216.97" y="599.05" width="18.4" height="61.15"/><rect x="1242.78" y="600.06" width="18.4" height="60.14"/><rect x="1268.58" y="593.42" width="18.4" height="66.78"/><rect x="1294.39" y="569.69" width="18.4" height="90.51"/><rect x="1320.20" y="601.18" width="18.4" height="59.02"/></g></svg>
<div class="t" style="left:932.84px;top:655px;font-size:9.4px;color:#6a6a6a;">0%</div><div class="t" style="left:932.84px;top:635px;font-size:9.4px;color:#6a6a6a;">5%</div><div class="t" style="left:927.63px;top:615px;font-size:9.4px;color:#6a6a6a;">10%</div><div class="t" style="left:927.63px;top:595px;font-size:9.4px;color:#6a6a6a;">15%</div><div class="t" style="left:927.63px;top:575px;font-size:9.4px;color:#6a6a6a;">20%</div><div class="t" style="left:927.63px;top:555px;font-size:9.4px;color:#6a6a6a;">25%</div><div class="t" style="left:927.63px;top:535px;font-size:9.4px;color:#6a6a6a;">30%</div><div class="t" style="left:927.63px;top:515px;font-size:9.4px;color:#6a6a6a;">35%</div>
<div class="t" style="left:958.98px;top:668px;font-size:9.4px;color:#6a6a6a;">3/24</div><div class="t" style="left:984.79px;top:668px;font-size:9.4px;color:#6a6a6a;">3/31</div><div class="t" style="left:1013.19px;top:668px;font-size:9.4px;color:#6a6a6a;">4/7</div><div class="t" style="left:1036.40px;top:668px;font-size:9.4px;color:#6a6a6a;">4/14</div><div class="t" style="left:1062.20px;top:668px;font-size:9.4px;color:#6a6a6a;">4/21</div><div class="t" style="left:1088.01px;top:668px;font-size:9.4px;color:#6a6a6a;">4/28</div><div class="t" style="left:1116.42px;top:668px;font-size:9.4px;color:#6a6a6a;">5/5</div><div class="t" style="left:1139.62px;top:668px;font-size:9.4px;color:#6a6a6a;">5/12</div><div class="t" style="left:1165.43px;top:668px;font-size:9.4px;color:#6a6a6a;">5/19</div><div class="t" style="left:1191.24px;top:668px;font-size:9.4px;color:#6a6a6a;">5/26</div><div class="t" style="left:1219.65px;top:668px;font-size:9.4px;color:#6a6a6a;">6/2</div><div class="t" style="left:1245.45px;top:668px;font-size:9.4px;color:#6a6a6a;">6/9</div><div class="t" style="left:1268.66px;top:668px;font-size:9.4px;color:#6a6a6a;">6/16</div><div class="t" style="left:1294.46px;top:668px;font-size:9.4px;color:#6a6a6a;">6/23</div><div class="t" style="left:1320.27px;top:668px;font-size:9.4px;color:#6a6a6a;">6/30</div>

<!-- SIDEBAR -->
<div id="sidebar" class="abs" style="box-shadow:1px 0 3px rgba(0,0,0,.10)">
  <svg class="abs" style="left:0;top:0" width="37" height="240" viewBox="0 0 37 240">
    <!-- logo -->
    <circle cx="16.8" cy="22.5" r="12.2" fill="#eceeed"/>
    <path d="M21.8 9.4 C23.6 13 23.2 18.8 21 25 L19.2 23.2 L14.8 21.4 L12.4 21.6 C14.2 16 17.8 11.4 21.8 9.4 Z" fill="#c42848" stroke="#5b1f2d" stroke-width=".7" stroke-linejoin="round"/>
    <path d="M15.2 25.2 C17.8 26.6 18.4 29.2 16.6 31.4 C15.2 33 13.4 33.6 12.4 36.2 C10.6 32.8 10.6 29.6 12.2 27 C13 25.6 14.2 24.9 15.2 25.2 Z" fill="#4fbfb1"/>
    <rect x="0" y="44.5" width="37" height="1" fill="#efefef"/>
    <!-- active -->
    <rect x="3" y="52.6" width="27.6" height="27.6" rx="3" fill="rgba(0,0,0,.10)"/>
    <rect x="3" y="52" width="27.6" height="27.6" rx="3" fill="#4f8a8c"/>
    <g fill="#fff" transform="translate(18.4 64.6) rotate(45)">
      <path d="M0 -7.4 C3 -4.6 3.2 -0.6 2.9 3 L-2.9 3 C-3.2 -0.6 -3 -4.6 0 -7.4 Z M0 -3.4 a1.25 1.25 0 1 0 0.01 0 Z" fill-rule="evenodd"/>
      <path d="M-2.9 0.2 L-5.2 3.2 L-5.2 4.8 L-2.9 3.6 Z M2.9 0.2 L5.2 3.2 L5.2 4.8 L2.9 3.6 Z"/>
      <path d="M-2.6 4.2 h1.3 v3 h-1.3 Z M-0.65 4.2 h1.3 v5.4 h-1.3 Z M1.3 4.2 h1.3 v3 h-1.3 Z"/>
    </g>
    <!-- gift -->
    <g fill="#707070">
      <path d="M9.6 95.2 H16.5 V98.6 H9.6 Z M17.9 95.2 H24.9 V98.6 H17.9 Z"/>
      <path d="M10.4 99.6 H16.5 V105 H11 Q10.4 105 10.4 104.4 Z M17.9 99.6 H24.1 V104.4 Q24.1 105 23.5 105 H17.9 Z"/>
    </g>
    <g fill="none" stroke="#707070" stroke-width="1.3">
      <path d="M17 95.2 C15.6 95.2 12.6 95.2 12.6 93.2 C12.6 91.2 15.8 91 17 95.2 Z"/>
      <path d="M17.4 95.2 C18.8 95.2 21.8 95.2 21.8 93.2 C21.8 91.2 18.6 91 17.4 95.2 Z"/>
    </g>
    <rect x="4" y="114.6" width="27" height="1" fill="#f0f0f0"/>
    <!-- list -->
    <g fill="none" stroke="#707070" stroke-width="1.3">
      <rect x="11.2" y="124" width="12" height="11.2" rx="1"/>
    </g>
    <g fill="#707070">
      <rect x="13.2" y="126.3" width="1.7" height="1.5"/><rect x="16" y="126.3" width="5.4" height="1.5"/>
      <rect x="13.2" y="128.9" width="1.7" height="1.5"/><rect x="16" y="128.9" width="5.4" height="1.5"/>
      <rect x="13.2" y="131.5" width="1.7" height="1.5"/><rect x="16" y="131.5" width="5.4" height="1.5"/>
    </g>
    <!-- gauge -->
    <circle cx="17.2" cy="161" r="6.3" fill="none" stroke="#707070" stroke-width="1.4"/>
    <path d="M12.6 163.6 C14 162 20.4 162 21.8 163.6 L20.6 165.8 L13.8 165.8 Z" fill="#707070"/>
    <path d="M17 161.4 L19 157.6" stroke="#707070" stroke-width="1.3" fill="none"/>
    <g fill="#707070"><circle cx="13.6" cy="159.6" r=".7"/><circle cx="15.4" cy="157.6" r=".7"/><circle cx="20.8" cy="159.6" r=".7"/></g>
    <!-- person + money -->
    <g fill="#707070">
      <circle cx="12.6" cy="189.2" r="2.7"/>
      <path d="M8.6 197.8 C8.6 194.4 10.2 193 12.6 193 C15 193 16.6 194.4 16.6 197.8 Z"/>
      <path d="M17.6 186 H26 V197.8 H17.6 Z M19 187.4 V196.4 H24.6 V187.4 Z" fill-rule="evenodd"/>
      <circle cx="21.8" cy="191.9" r="1.9"/>
    </g>
    <!-- trophy -->
    <g fill="#707070">
      <path d="M13 216.4 H21.6 V221.4 C21.6 224.2 19.8 225.6 17.3 225.6 C14.8 225.6 13 224.2 13 221.4 Z"/>
      <path d="M10.2 217.4 H13.4 V218.6 H11.4 C11.4 220.6 12.4 221.8 14 222.2 V223.4 C11.6 223 10.2 221 10.2 217.4 Z"/>
      <path d="M24.4 217.4 H21.2 V218.6 H23.2 C23.2 220.6 22.2 221.8 20.6 222.2 V223.4 C23 223 24.4 221 24.4 217.4 Z"/>
      <rect x="16.5" y="225" width="1.6" height="3.4"/>
      <rect x="13.6" y="228" width="7.4" height="1.8" rx=".5"/>
    </g>
  </svg>
</div>
<!-- HEADER -->
<div id="header" class="abs">
  <svg class="abs" style="left:0.2px;top:0" width="1320" height="44" viewBox="37 0 1320 44">
    <g fill="#fff"><rect x="50" y="17.3" width="14" height="1.7"/><rect x="50" y="21.3" width="14" height="1.7"/><rect x="50" y="25.3" width="14" height="1.7"/></g>
    <!-- avatar -->
    <defs><clipPath id="avc"><circle cx="1289.4" cy="22.3" r="14.2"/></clipPath>
    <linearGradient id="avbg" x1="0" y1="0" x2="0" y2="1"><stop offset="0" stop-color="#e9f1f8"/><stop offset="1" stop-color="#d5dee8"/></linearGradient></defs>
    <g clip-path="url(#avc)">
      <rect x="1275" y="8" width="29" height="29" fill="url(#avbg)"/>
      <path d="M1278 37 C1279 33 1282 32 1284 31.4 L1296 31.4 C1299 32 1302 33 1303 37 Z" fill="#5a4a52"/>
      <path d="M1281 32.6 L1284 30 L1285.400 36.800 L1279 36.800 Z" fill="#23263a"/>
      <path d="M1290 9.400 C1295.600 9.400 1298.600 13.400 1298.400 19.400 C1298.200 25.400 1296.600 30.400 1293.600 33.400 C1291.600 35.400 1288.400 35.400 1286.400 33.400 C1283.400 30.400 1281.800 25.400 1281.600 19.400 C1281.400 13.400 1284.400 9.400 1290 9.400 Z" fill="#a67c78"/>
      <path d="M1281.700 18.400 C1281 11.400 1285.400 8.800 1290 8.800 C1294.600 8.800 1299 11.400 1298.300 18.400 C1297.400 14.400 1294.400 12.600 1290 12.600 C1285.600 12.600 1282.600 14.400 1281.700 18.400 Z" fill="#5d4a4c"/>
      <path d="M1284.400 18.600 h4.200 v1.500 h-4.200 Z M1291.400 18.600 h4.200 v1.500 h-4.200 Z" fill="#6b4c4c"/>
      <path d="M1283.400 26 C1285.400 31.400 1294.600 31.400 1296.600 26 C1294.600 34.400 1285.400 34.400 1283.400 26 Z" fill="#8a6a6a"/>
      <ellipse cx="1290" cy="15" rx="3.400" ry="1.600" fill="#c08a78" opacity=".7"/>
    </g>
    <!-- logout -->
    <g fill="none" stroke="#fff" stroke-width="1.7" stroke-linejoin="round" stroke-linecap="butt">
      <path d="M1328.6 19.4 V17.6 Q1328.6 16.6 1327.6 16.6 H1324.2 Q1323.2 16.6 1323.2 17.6 V27.2 Q1323.2 28.2 1324.2 28.2 H1327.6 Q1328.6 28.2 1328.6 27.2 V25.4"/>
      <path d="M1326.4 22.4 H1335.6"/>
      <path d="M1332.6 19 L1336 22.4 L1332.6 25.8"/>
    </g>
  </svg>
</div>
<!-- WEBCAM OVERLAY -->
<svg style="left:16px;top:566px" width="143" height="143" viewBox="16 566 143 143">
<defs>
<clipPath id="camc"><circle cx="87.500" cy="637.500" r="70.900"/></clipPath>
<filter id="camblur" x="-5%" y="-5%" width="110%" height="110%"><feGaussianBlur stdDeviation=".7"/></filter>
<linearGradient id="wall" x1="0" y1="0" x2="1" y2="0"><stop offset="0" stop-color="#a89094"/><stop offset=".5" stop-color="#b2979b"/><stop offset="1" stop-color="#bda3a6"/></linearGradient>
<radialGradient id="skin" cx=".42" cy=".2" r=".85"><stop offset="0" stop-color="#e2ada8"/><stop offset=".3" stop-color="#cf8e8a"/><stop offset=".75" stop-color="#b87874"/><stop offset="1" stop-color="#9c6662"/></radialGradient>
<linearGradient id="beard" x1="0" y1="0" x2="0" y2="1"><stop offset="0" stop-color="#94706c"/><stop offset=".5" stop-color="#a89a98"/><stop offset="1" stop-color="#8d8482"/></linearGradient>
<linearGradient id="shirt" x1="0" y1="0" x2="1" y2="0"><stop offset="0" stop-color="#1c1d38"/><stop offset=".45" stop-color="#141428"/><stop offset="1" stop-color="#0d0d1a"/></linearGradient>
</defs>
<circle cx="87.500" cy="638.200" r="71.300" fill="rgba(0,0,0,.16)"/>
<g clip-path="url(#camc)">
<g filter="url(#camblur)">
<rect x="10" y="560" width="155" height="155" fill="url(#wall)"/>
<!-- closet door -->
<rect x="117" y="560" width="48" height="100" fill="#c2a7aa"/>
<rect x="116.400" y="560" width="1.200" height="96" fill="#a38a8e"/>
<rect x="122.800" y="584" width="1.600" height="12.400" fill="#6a5658"/>
<rect x="128.600" y="584" width="1.600" height="12.400" fill="#6a5658"/>
<!-- picture frame -->
<rect x="46" y="566" width="19" height="13.600" fill="#2b2124"/>
<rect x="48" y="566" width="15" height="10.600" fill="#6e5a5a"/>
<!-- shelf objects -->
<rect x="30" y="592" width="15" height="4" fill="#c4b5b4"/>
<rect x="28" y="596" width="18" height="4.600" fill="#a99a99"/>
<rect x="44.600" y="590.600" width="12" height="10" rx="1.500" fill="#3b2a2b"/>
<rect x="22" y="600.400" width="38" height="3.200" fill="#5b3c33"/>
<rect x="22" y="603.600" width="38" height="8.400" fill="#8c787a"/>
<!-- books -->
<rect x="22.600" y="604" width="3.200" height="48" fill="#2a1e1f"/>
<rect x="25.800" y="611.800" width="25.400" height="18.400" fill="#d6cdcc"/>
<path d="M29 611.800 V630 M32.400 611.800 V630 M35.600 611.800 V630 M38.800 611.800 V630 M42 611.800 V630 M45.400 611.800 V630 M48.400 611.800 V630" stroke="#9f9190" stroke-width=".9"/>
<rect x="51.200" y="608" width="9" height="22" fill="#4b3a3b"/>
<rect x="22.600" y="630" width="40" height="21" fill="#1f1719"/>
<!-- floor -->
<path d="M14 641 L32.600 641 L32.600 660 L14 676 Z" fill="#8b4f36"/>
<path d="M144 656.800 L160 656.800 L160 668 L150 668 Z" fill="#9a6449"/>
<!-- shirt -->
<path d="M8 694 C12 676 18 668 32 660.400 L58 645.600 C64 642.600 98 640.600 104 642.600 L126 649.400 C142 656 152 664 164 690 L164 714 L8 714 Z" fill="url(#shirt)"/>
<!-- neck -->
<path d="M64 640 L99 640 L97 658 L81 677 L64.600 651 Z" fill="#b07a78"/>
<path d="M58.400 645.400 L65 641.600 L81.400 675 L80 680 L70 668 Z" fill="#15152c"/>
<path d="M103.400 642.800 L97 640.600 L81 676.400 L83.400 680 L94 664 Z" fill="#0f0f1e"/>
<!-- ears -->
<ellipse cx="54.600" cy="617" rx="3.800" ry="8.400" fill="#c08680"/>
<ellipse cx="109.600" cy="616.400" rx="3.400" ry="8" fill="#a9716c"/>
<!-- head -->
<path d="M82.400 569.600 C100.400 569.600 110 584 109.600 604 C109.400 620 107.400 634 101 645 C96.400 652.600 90 655.400 84.400 655.400 C78 655.400 71 652.600 66 645 C59.600 634 56.200 620 56 604 C55.800 584 65 569.600 82.400 569.600 Z" fill="url(#skin)"/>
<ellipse cx="74" cy="580" rx="5.400" ry="4" fill="#f6e4e0" opacity=".9"/>
<ellipse cx="101.400" cy="583" rx="3" ry="4.400" fill="#eed2cd" opacity=".6"/>
<!-- beard -->
<path d="M58.400 628 C62 633 68 634.400 72.600 633 C78 630.400 90 630.400 95.400 633 C99.600 634.400 104.400 632.600 107.400 628 C106.600 637 103.600 644.600 99.400 649.400 C95 654 89.600 655.600 84.400 655.600 C79 655.600 72.600 654 68 649.400 C63 644 60 637 58.400 628 Z" fill="url(#beard)"/>
<path d="M69 633.600 C73 629.600 79 628 83.400 629.600 C88 628 94 629.600 98 633.600 C93 632.400 88 632.600 83.600 633.600 C79 632.600 74 632.400 69 633.600 Z" fill="#7d5048"/>
<path d="M74.600 636.400 C80 635.200 88 635.200 93 636.400 C88 639 80 639 74.600 636.400 Z" fill="#b76e70"/>
<!-- nose -->
<path d="M81 612 C80 619 77.600 623 80 625.600 C82.600 627.400 86 627.400 88.400 625.600 C90.400 623 88 619 86.600 612 Z" fill="#c9827e" opacity=".75"/>
<!-- glasses -->
<g fill="rgba(110,74,80,.28)" stroke="#4a3840" stroke-width="1.400">
<rect x="58.800" y="605.400" width="20" height="15.400" rx="6.600"/>
<rect x="86.400" y="605.400" width="20" height="15.400" rx="6.600"/>
</g>
<path d="M78.800 611 C81.400 609.200 84 609.200 86.400 611 M58.800 610.600 L54.600 609.400 M106.400 610.600 L110 609.400" fill="none" stroke="#4a3840" stroke-width="1.400"/>
<path d="M61.600 603.600 C65 601.800 73 601.800 77 604 M88.400 604 C92.600 601.800 100 601.800 103.600 603.600" fill="none" stroke="#8d5a54" stroke-width="1.400"/>
<ellipse cx="69.400" cy="612.800" rx="2.800" ry="1.400" fill="#4a3032"/><ellipse cx="96" cy="612.800" rx="2.800" ry="1.400" fill="#4a3032"/>
<!-- buttons -->
<circle cx="81.600" cy="694.600" r="1.300" fill="#2a2a44"/>
</g>
</g>
</svg>

</body>
</html>
